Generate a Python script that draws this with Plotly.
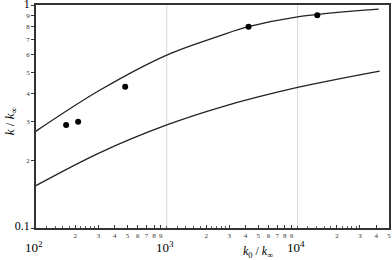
import numpy as np
import plotly.graph_objects as go

# Data
upper_x = [100, 309, 1000, 2570, 4220, 10000, 41800]
upper_y = [0.272, 0.416, 0.597, 0.730, 0.800, 0.886, 0.959]
lower_x = [100, 309, 1000, 2570, 10000, 42500]
lower_y = [0.155, 0.218, 0.290, 0.348, 0.427, 0.506]
points_x = [170, 210, 481, 4220, 14160]
points_y = [0.29, 0.30, 0.43, 0.80, 0.90]

x_major = [100, 1000, 10000]
x_major_text = ["10<sup>2</sup>", "10<sup>3</sup>", "10<sup>4</sup>"]
x_minor_mult = [2, 3, 4, 5, 6, 7, 8, 9]
x_fine_mult = [1.2, 1.4, 1.6, 1.8, 2.2, 2.4, 2.6, 2.8]
x_max = 50000
y_vals = [0.1, 0.2, 0.3, 0.4, 0.5, 0.6, 0.7, 0.8, 0.9, 1.0]
y_text = ["0.1", "2", "3", "4", "5", "6", "7", "8", "9", "1"]
grid_x = [1000, 10000]

FONT = "Liberation Serif"

# x tick values/labels
xt_vals, xt_text = [], []
for d in x_major:
    for m in x_minor_mult:
        v = d * m
        if v <= x_max:
            xt_vals.append(v); xt_text.append(str(m))
fine_vals = list(x_major) + [d * m for d in x_major for m in x_fine_mult if d * m <= x_max]

yt_text = []
for t in y_text:
    if "." in t or t == "1":
        yt_text.append(f'<span style="font-size:12px;color:#000">{t}</span>')
    else:
        yt_text.append(t)

fig = go.Figure()
for gx in grid_x:
    fig.add_trace(go.Scatter(x=[gx, gx], y=[y_vals[0], y_vals[-1]], mode="lines",
                             line=dict(color="#d9d9d9", width=1), showlegend=False,
                             hoverinfo="skip"))
fig.add_trace(go.Scatter(x=upper_x, y=upper_y, mode="lines", line=dict(color="#222", width=1.3, shape="spline"),
                         showlegend=False))
fig.add_trace(go.Scatter(x=lower_x, y=lower_y, mode="lines", line=dict(color="#222", width=1.3, shape="spline"),
                         showlegend=False))
fig.add_trace(go.Scatter(x=points_x, y=points_y, mode="markers", marker=dict(color="#000", size=6),
                         showlegend=False))

fig.update_layout(
    width=392, height=260,
    margin=dict(l=36, r=3, t=5, b=32),
    plot_bgcolor="white", paper_bgcolor="white",
    font=dict(family=FONT, color="#333"),
    xaxis=dict(type="log", range=[np.log10(x_major[0]), np.log10(x_max) + 0.0005],
               tickmode="array", tickvals=xt_vals, ticktext=xt_text,
               tickfont=dict(size=7, family=FONT, color="#333"),
               ticks="inside", ticklen=3, tickcolor="#333",
               showline=True, linecolor="#333", linewidth=1.5, mirror=True,
               showgrid=False, zeroline=False, automargin=False,
               ticklabeloverflow="allow",
               minor=dict(tickvals=fine_vals, ticks="inside", ticklen=2, tickcolor="#555")),
    yaxis=dict(type="log", range=[np.log10(y_vals[0]), np.log10(y_vals[-1]) + 0.0005],
               tickmode="array", tickvals=y_vals, ticktext=yt_text,
               tickfont=dict(size=7, family=FONT, color="#333"),
               ticks="outside", ticklen=3, tickcolor="#333",
               showline=True, linecolor="#333", linewidth=1.5, mirror=True,
               showgrid=False, zeroline=False, automargin=False,
               ticklabeloverflow="allow"),
)

for v, t in zip(x_major, x_major_text):
    fig.add_annotation(x=np.log10(v), y=0, xref="x", yref="paper", text=t,
                       showarrow=False, yanchor="top", yshift=-9, xshift=-2,
                       font=dict(size=13, family=FONT, color="#000"))

fig.add_annotation(x=0.63, y=0, xref="paper", yref="paper",
                   text="<i>k</i><sub>0</sub> / <i>k</i><sub>∞</sub>",
                   showarrow=False, yanchor="top", yshift=-14,
                   font=dict(size=12, family=FONT, color="#000"))
fig.add_annotation(x=-0.1, y=0.48, xref="paper", yref="paper",
                   text="<i>k</i> / <i>k</i><sub>∞</sub>", textangle=-90,
                   showarrow=False, font=dict(size=13, family=FONT, color="#000"))

fig.write_html("out.html", config={"displayModeBar": False},
               post_script="document.body.style.margin='0';document.body.style.overflow='hidden';")
